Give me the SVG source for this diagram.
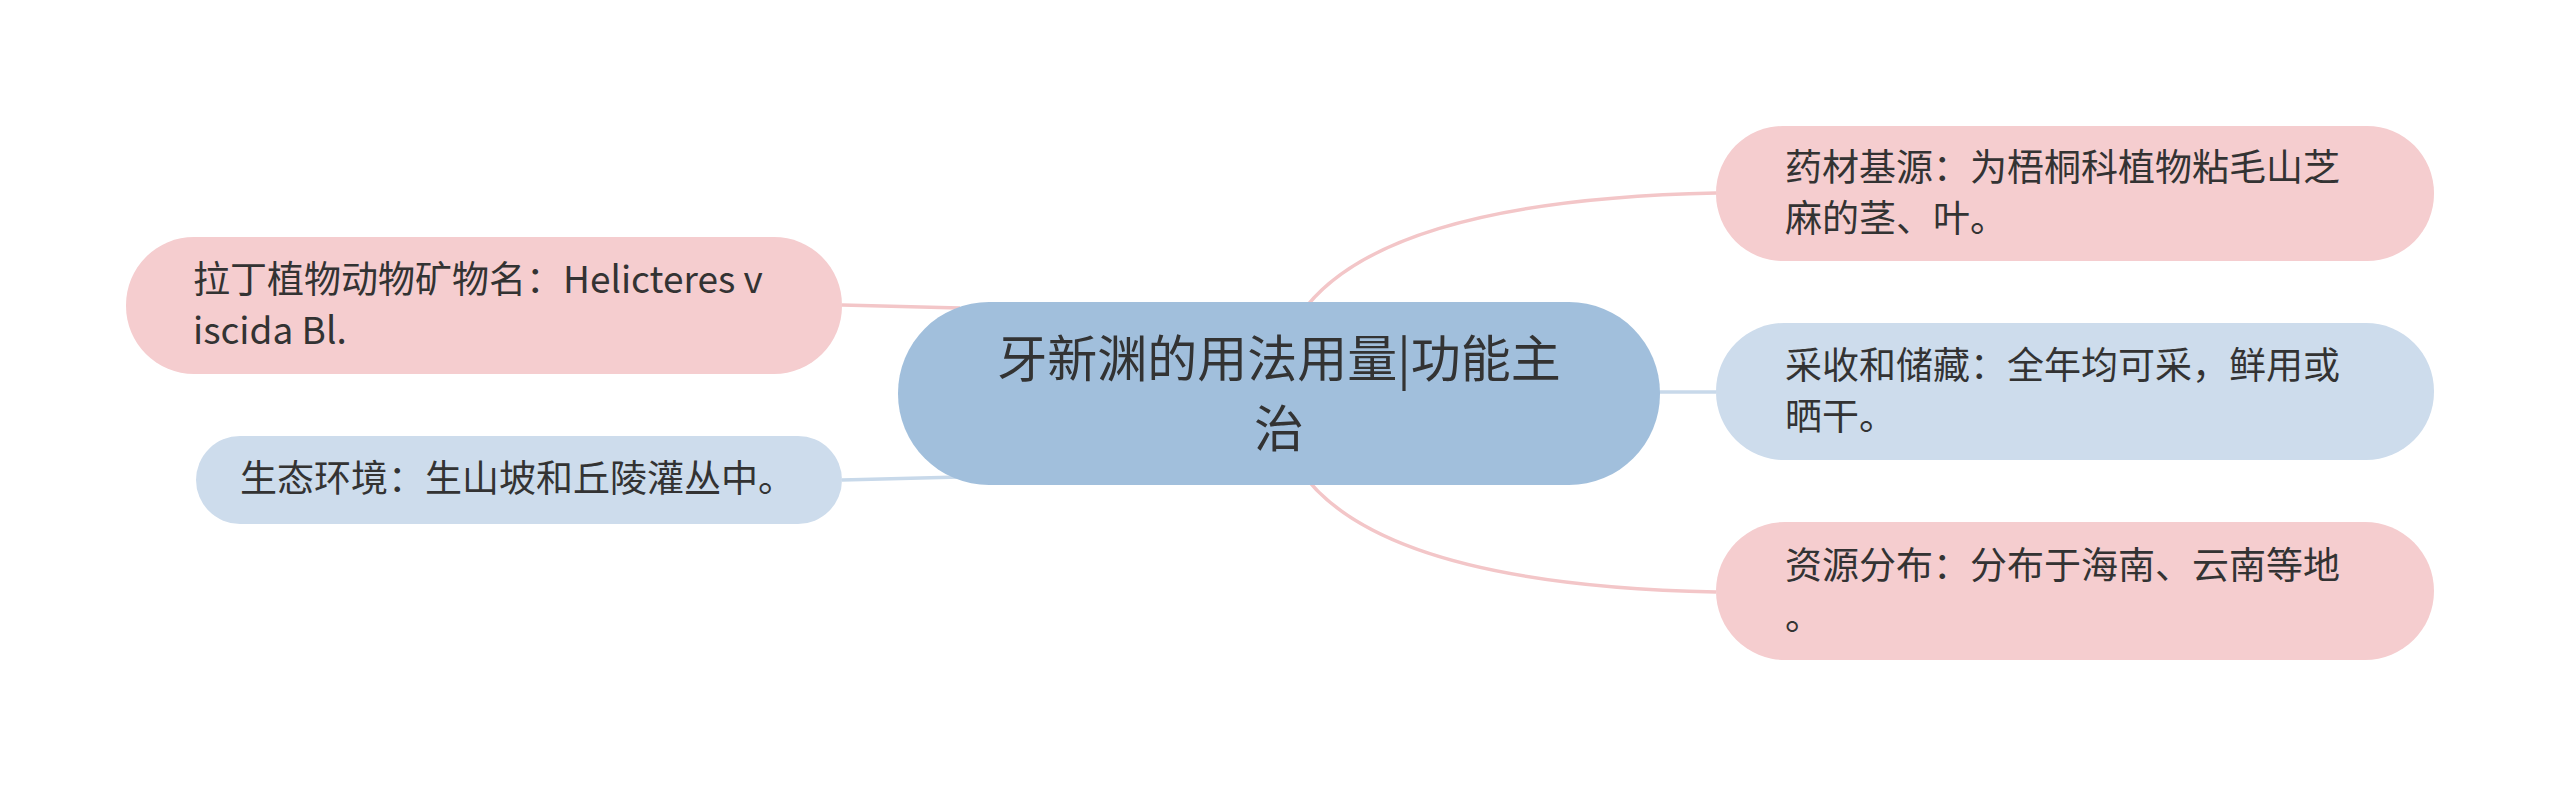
<svg xmlns="http://www.w3.org/2000/svg" width="2560" height="785" viewBox="0 0 2560 785">
<style>
.pink{fill:#f5cdcf;}
.blue{fill:#cddcec;}
.root{fill:#a1bfdc;}
.t{font-family:"Noto Sans CJK SC","Noto Sans",sans-serif;font-size:37px;fill:#333333;}
.rt{font-family:"Noto Sans CJK SC","Noto Sans",sans-serif;font-size:50px;fill:#333333;text-anchor:middle;}
.cp{fill:none;stroke:#f3c6c8;stroke-width:3.5;}
.cb{fill:none;stroke:#c8d9ea;stroke-width:3.5;}
</style>
<rect width="2560" height="785" fill="#ffffff"/>
<g id="connectors">
<path class="cp" d="M1300 315 Q1380 200 1716 193"/>
<path class="cb" d="M1640 392 L1716 392"/>
<path class="cp" d="M1300 470 Q1380 585 1716 592"/>
<path class="cp" d="M842 305 L960 308"/>
<path class="cb" d="M842 480 L960 477"/>
</g>
<g id="root">
<rect class="root" x="898" y="302" width="762" height="183" rx="91" ry="91"/>
<text class="rt" x="1279" y="377">牙新渊的用法用量|功能主</text>
<text class="rt" x="1279" y="447">治</text>
</g>
<g id="n-latin">
<rect class="pink" x="126" y="237" width="716" height="137" rx="68" ry="68"/>
<text class="t" x="193" y="293">拉丁植物动物矿物名：Helicteres v</text>
<text class="t" x="193" y="344">iscida Bl.</text>
</g>
<g id="n-env">
<rect class="blue" x="196" y="436" width="646" height="88" rx="44" ry="44"/>
<text class="t" x="240" y="492">生态环境：生山坡和丘陵灌丛中。</text>
</g>
<g id="n-source">
<rect class="pink" x="1716" y="126" width="718" height="135" rx="67" ry="67"/>
<text class="t" x="1785" y="181">药材基源：为梧桐科植物粘毛山芝</text>
<text class="t" x="1785" y="232">麻的茎、叶。</text>
</g>
<g id="n-harvest">
<rect class="blue" x="1716" y="323" width="718" height="137" rx="68" ry="68"/>
<text class="t" x="1785" y="379">采收和储藏：全年均可采，鲜用或</text>
<text class="t" x="1785" y="430">晒干。</text>
</g>
<g id="n-dist">
<rect class="pink" x="1716" y="522" width="718" height="138" rx="69" ry="69"/>
<text class="t" x="1785" y="579">资源分布：分布于海南、云南等地</text>
<text class="t" x="1785" y="630">。</text>
</g>
</svg>
